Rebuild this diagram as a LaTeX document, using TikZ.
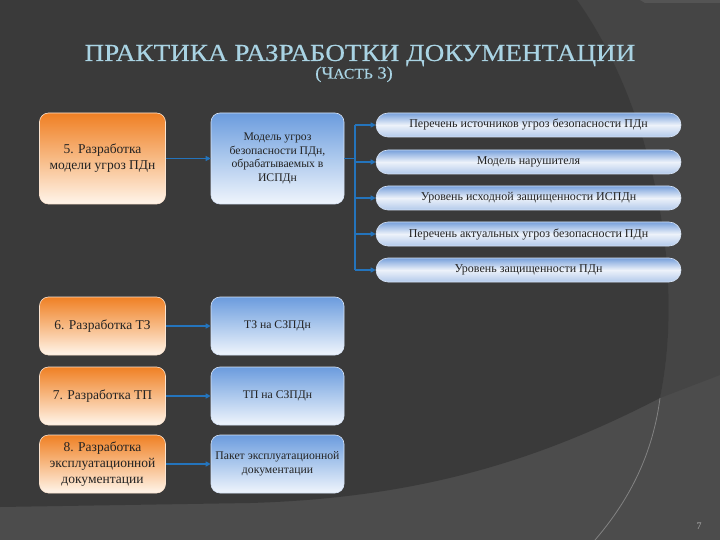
\documentclass[tikz,border=0pt]{standalone}
\usepackage{fontspec}
\setmainfont{Liberation Serif}
\newfontface\headfont{Liberation Serif}[FakeBold=0.4]
\usetikzlibrary{arrows.meta}
\definecolor{bgdark}{HTML}{3A3A3A}
\definecolor{bglight}{HTML}{4C4C4C}
\definecolor{bgband}{HTML}{454545}
\definecolor{titlecol}{HTML}{A9D3E3}
\definecolor{orangeedge}{HTML}{FBE3CF}
\definecolor{blueedge}{HTML}{D6E3F6}
\definecolor{conncol}{HTML}{2474BC}
\definecolor{textdark}{HTML}{232323}
\pgfdeclareverticalshading{orangeshade}{100bp}{rgb(0bp)=(1,0.96,0.92); rgb(25bp)=(1,0.96,0.92); rgb(50bp)=(0.97,0.73,0.52); rgb(75bp)=(0.94,0.50,0.14); rgb(100bp)=(0.94,0.50,0.14)}
\pgfdeclareverticalshading{blueshade}{100bp}{rgb(0bp)=(0.94,0.96,0.99); rgb(25bp)=(0.94,0.96,0.99); rgb(50bp)=(0.68,0.79,0.93); rgb(75bp)=(0.42,0.61,0.87); rgb(100bp)=(0.42,0.61,0.87)}
\pgfdeclareverticalshading{pillshade}{100bp}{rgb(0bp)=(0.70,0.79,0.92); rgb(25bp)=(0.70,0.79,0.92); rgb(50bp)=(0.93,0.95,0.98); rgb(75bp)=(0.47,0.63,0.86); rgb(100bp)=(0.47,0.63,0.86)}
\begin{document}
\begin{tikzpicture}[x=1pt,y=1pt,
  orangebox/.style={draw=orangeedge, line width=0.6pt, rounded corners=9pt,
    shade, shading=orangeshade, minimum width=126pt, minimum height=58pt,
    align=center, text=textdark, font=\fontsize{13.5}{16}\selectfont, inner sep=2pt},
  bluebox/.style={draw=blueedge, line width=0.6pt, rounded corners=9pt,
    shade, shading=blueshade, minimum width=133pt, minimum height=58pt,
    align=center, text=textdark, font=\fontsize{11.7}{13.8}\selectfont, inner sep=2pt},
  pill/.style={draw=blueedge, line width=0.6pt, rounded corners=12pt,
    shade, shading=pillshade,
    minimum width=305pt, minimum height=24pt, text=textdark,
    font=\fontsize{12}{13}\selectfont, inner sep=1pt},
  conn/.style={draw=conncol, line width=1.1pt, -{Triangle[length=5pt,width=5pt]}},
  plain/.style={draw=conncol, line width=1.1pt}
]
\useasboundingbox (0,0) rectangle (720,-540);
% background
\fill[bglight] (0,0) rectangle (720,-540);
\fill[bgband] (577,0) -- (720,0) -- (720,-375) -- (660,-398)
  .. controls (688,-260) and (645,-95) .. (577,0) -- cycle;
\fill[bgdark] (0,0) -- (577,0) .. controls (645,-95) and (688,-260) .. (660,-398)
  .. controls (540,-460) and (420,-498) .. (250,-503) -- (0,-507) -- cycle;
\draw[white!30!bglight, line width=0.8pt] (660,-398) .. controls (652,-460) and (625,-505) .. (595,-540);
\fill[white!8!bgband] (640,0) -- (720,0) -- (720,-3) -- (645,-3) -- cycle;

% title
\node[text=titlecol, font=\headfont\fontsize{24.5}{28}\selectfont, anchor=base, inner sep=0pt] (title) at (360,-61)
  {\scalebox{1.11}[1]{ПРАКТИКА РАЗРАБОТКИ ДОКУМЕНТАЦИИ}};
\node[text=titlecol, font=\headfont\fontsize{17}{19}\selectfont, anchor=base, inner sep=0pt] (sub) at (354,-78.5)
  {\scalebox{1.08}[1]{(Ч{\fontsize{14.5}{16}\selectfont АСТЬ} 3)}};

% left column
\node[orangebox, minimum height=91pt] (o5) at (102.5,-158.5) {5. Разработка\\модели угроз ПДн};
\node[orangebox] (o6) at (102.5,-326) {6. Разработка ТЗ};
\node[orangebox] (o7) at (102.5,-396) {7. Разработка ТП};
\node[orangebox] (o8) at (102.5,-464) {8. Разработка\\эксплуатационной\\документации};

% middle column
\node[bluebox, minimum height=91pt] (b5) at (277.5,-158.5) {Модель угроз\\безопасности ПДн,\\обрабатываемых в\\ИСПДн};
\node[bluebox] (b6) at (277.5,-326) {ТЗ на СЗПДн};
\node[bluebox] (b7) at (277.5,-396) {ТП на СЗПДн};
\node[bluebox] (b8) at (277.5,-464) {Пакет эксплуатационной\\документации};

% pills
\node[pill] (p1) at (528.5,-125) {Перечень источников угроз безопасности ПДн};
\node[pill] (p2) at (528.5,-162) {Модель нарушителя};
\node[pill] (p3) at (528.5,-198) {Уровень исходной защищенности ИСПДн};
\node[pill] (p4) at (528.5,-234) {Перечень актуальных угроз безопасности ПДн};
\node[pill] (p5) at (528.5,-270) {Уровень защищенности ПДн};

% connectors
\draw[conn] (o5) -- (b5);
\draw[conn] (o6) -- (b6);
\draw[conn] (o7) -- (b7);
\draw[conn] (o8) -- (b8);
\coordinate (bx) at (355,-158.5);
\draw[plain] (b5.east) -- (bx);
\draw[plain] (bx |- p1.west) -- (bx |- p5.west);
\foreach \p in {p1,p2,p3,p4,p5}{
  \draw[conn] (bx |- \p.west) -- (\p.west);
}

% page number
\node[text=white!55!bglight, font=\fontsize{10}{12}\selectfont] (pg) at (699,-526) {7};
\end{tikzpicture}
\end{document}
